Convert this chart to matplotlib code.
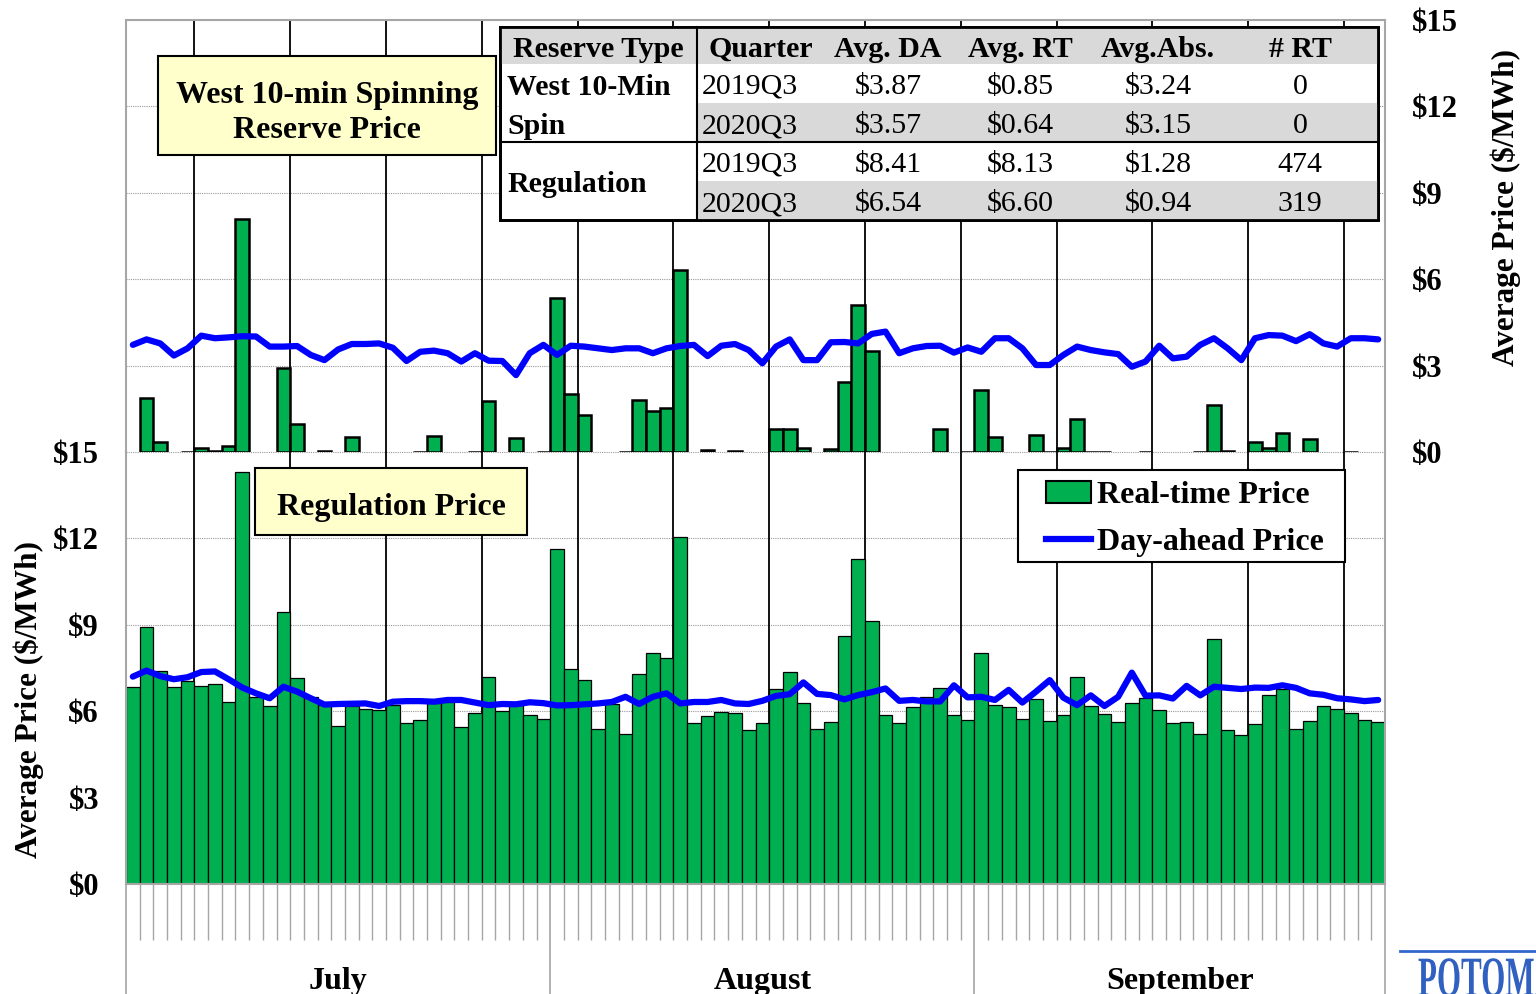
import numpy as np
import matplotlib
matplotlib.use("Agg")
import matplotlib.pyplot as plt
from matplotlib.patches import Rectangle, PathPatch, Patch
from matplotlib.lines import Line2D
from matplotlib.textpath import TextPath
from matplotlib.font_manager import FontProperties
from matplotlib.transforms import Affine2D, blended_transform_factory

plt.rcParams['font.family'] = ['Liberation Serif', 'DejaVu Serif']
plt.rcParams['font.weight'] = 'bold'

# ---------------- data (Jul 1 - Sep 30, one value per day) ----------------
months = ['July', 'August', 'September']
month_days = [31, 31, 30]

# regulation, $/MWh
reg_rt = [6.83, 8.93, 7.41, 6.85, 7.06, 6.89, 6.96, 6.31, 14.32, 6.48, 6.19, 9.44, 7.15, 6.50, 6.20, 5.49,
          6.19, 6.06, 6.03, 6.21, 5.58, 5.71, 6.27, 6.31, 5.46, 5.93, 7.18, 6.02, 6.21, 5.86, 5.72,
          11.64, 7.45, 7.07, 5.39, 6.25, 5.21, 7.28, 8.01, 7.84, 12.04, 5.59, 5.82, 5.97, 5.93, 5.34, 5.58,
          6.76, 7.36, 6.27, 5.39, 5.61, 8.62, 11.27, 9.12, 5.87, 5.58, 6.15, 6.48, 6.81, 5.86, 5.69,
          8.03, 6.21, 6.13, 5.72, 6.44, 5.65, 5.86, 7.18, 6.17, 5.89, 5.61, 6.30, 6.45, 6.04, 5.58,
          5.61, 5.22, 8.50, 5.34, 5.17, 5.56, 6.55, 6.78, 5.37, 5.65, 6.17, 6.08, 5.94, 5.69, 5.64]
reg_da = [7.20, 7.41, 7.22, 7.11, 7.18, 7.36, 7.38, 7.11, 6.82, 6.62, 6.45, 6.85, 6.68, 6.45, 6.23, 6.25,
          6.26, 6.27, 6.18, 6.33, 6.35, 6.35, 6.33, 6.39, 6.39, 6.30, 6.21, 6.25, 6.24, 6.31, 6.28,
          6.20, 6.21, 6.24, 6.27, 6.32, 6.50, 6.25, 6.50, 6.62, 6.27, 6.32, 6.32, 6.39, 6.27, 6.25, 6.36,
          6.53, 6.59, 7.00, 6.60, 6.56, 6.41, 6.56, 6.66, 6.79, 6.36, 6.39, 6.34, 6.34, 6.90, 6.48,
          6.50, 6.39, 6.74, 6.30, 6.68, 7.08, 6.47, 6.21, 6.55, 6.18, 6.50, 7.34, 6.54, 6.55, 6.44,
          6.88, 6.55, 6.85, 6.81, 6.77, 6.82, 6.81, 6.90, 6.81, 6.62, 6.57, 6.45, 6.41, 6.35, 6.39]

# west 10-min spinning reserve, $/MWh (None = no real-time price that day)
spin_rt = [None, 1.86, 0.36, None, 0.0, 0.13, 0.03, 0.21, 8.08, None, None, 2.93, 0.96, None, 0.05, None,
           0.51, None, None, None, None, 0.0, 0.56, None, None, 0.0, 1.77, None, 0.50, None, 0.0,
           5.36, 2.00, 1.28, None, None, 0.0, 1.79, 1.42, 1.54, 6.32, None, 0.07, None, 0.02, None, None,
           0.80, 0.80, 0.15, None, 0.12, 2.42, 5.09, 3.52, None, None, None, None, 0.80, None, 0.0,
           2.15, 0.53, None, None, 0.59, 0.0, 0.13, 1.16, 0.0, 0.0, None, None, 0.0, None, None,
           None, 0.0, 1.63, 0.03, None, 0.36, 0.13, 0.65, None, 0.46, None, None, 0.0, None, None]
spin_da = [3.72, 3.91, 3.77, 3.35, 3.60, 4.04, 3.95, 3.98, 4.02, 4.01, 3.66, 3.66, 3.68, 3.37, 3.19, 3.56,
           3.75, 3.75, 3.77, 3.62, 3.16, 3.48, 3.52, 3.43, 3.14, 3.43, 3.17, 3.16, 2.67, 3.43, 3.72,
           3.37, 3.69, 3.66, 3.60, 3.54, 3.60, 3.60, 3.43, 3.60, 3.68, 3.72, 3.33, 3.69, 3.75, 3.54, 3.08,
           3.66, 3.91, 3.19, 3.19, 3.81, 3.82, 3.77, 4.10, 4.18, 3.43, 3.60, 3.68, 3.69, 3.45, 3.63,
           3.48, 3.95, 3.95, 3.60, 3.02, 3.02, 3.37, 3.66, 3.54, 3.46, 3.40, 2.96, 3.14, 3.69, 3.25,
           3.31, 3.72, 3.95, 3.60, 3.19, 3.95, 4.06, 4.04, 3.85, 4.09, 3.77, 3.66, 3.95, 3.95, 3.91]

# summary table
tbl_header = ['Reserve Type', 'Quarter', 'Avg. DA', 'Avg. RT', 'Avg.Abs.', '# RT']
tbl_types = [['West 10-Min', 'Spin'], ['Regulation']]
tbl_quarter = ['2019Q3', '2020Q3', '2019Q3', '2020Q3']
tbl_da = [3.87, 3.57, 8.41, 6.54]
tbl_rt = [0.85, 0.64, 8.13, 6.60]
tbl_abs = [3.24, 3.15, 1.28, 0.94]
tbl_nrt = [0, 0, 474, 319]

GREEN = '#00B050'
BLUE = '#0000FF'
GRAY = '#A6A6A6'

W, H = 1536, 994
def fx(x): return x / W
def fy(y): return 1 - y / H

fig = plt.figure(figsize=(W / 100, H / 100), dpi=100)
ax_top = fig.add_axes([fx(126), fy(452), fx(1385) - fx(126), fy(20) - fy(452)])
ax_bot = fig.add_axes([fx(126), fy(884), fx(1385) - fx(126), fy(452) - fy(884)])

n = len(reg_rt)
x = np.arange(n) + 0.5

# bottom: regulation
ax_bot.bar(x, reg_rt, width=1.0, color=GREEN, edgecolor='black', linewidth=0.9, zorder=2)
ax_bot.plot(x, reg_da, color=BLUE, lw=4.5, zorder=3, solid_joinstyle='round', solid_capstyle='round')

# top: spinning reserve
idx = [i for i, v in enumerate(spin_rt) if v is not None]
ax_top.bar(x[idx], [spin_rt[i] for i in idx], width=1.0, color=GREEN, edgecolor='black',
           linewidth=1.8, zorder=2)
ax_top.plot(x, spin_da, color=BLUE, lw=4.5, zorder=3, solid_joinstyle='round', solid_capstyle='round')

yt = np.arange(0, 16, 3)
for a in (ax_top, ax_bot):
    a.set_xlim(0, n)
    a.set_ylim(0, 15)
    a.set_yticks(yt)
    a.set_yticklabels(['\\$%d' % v for v in yt])
    a.yaxis.grid(True, linestyle=(0, (1, 1)), color='#999999', lw=0.8)
    a.set_axisbelow(True)
    for w in range(5, n, 7):
        a.axvline(w, color='black', lw=1.3, zorder=1.5)
    for s in a.spines.values():
        s.set_color(GRAY)
        s.set_linewidth(1.5)

ax_top.spines['bottom'].set_visible(False)
ax_bot.spines['top'].set_visible(False)

ax_top.set_xticks([])
ax_top.tick_params(axis='y', left=False, right=False, labelleft=False, labelright=True,
                   labelsize=22, pad=16)
ax_bot.tick_params(axis='y', left=False, labelleft=True, labelsize=22, pad=16)

bounds = np.concatenate([[0], np.cumsum(month_days)])
ax_bot.set_xticks(bounds)
ax_bot.set_xticks(np.arange(n + 1), minor=True)
ax_bot.tick_params(axis='x', which='major', length=79, width=1.2, color=GRAY, labelbottom=False)
ax_bot.tick_params(axis='x', which='minor', length=40, width=1.0, color=GRAY)

trans = blended_transform_factory(ax_bot.transData, fig.transFigure)
for m, a0, a1 in zip(months, bounds[:-1], bounds[1:]):
    ax_bot.text((a0 + a1) / 2, fy(981), m, transform=trans, ha='center', va='center', fontsize=23)

fig.text(fx(29), fy(700), 'Average Price (\\$/MWh)', rotation=90, ha='center', va='center', fontsize=22.5)
fig.text(fx(1506), fy(207), 'Average Price (\\$/MWh)', rotation=90, ha='center', va='center', fontsize=22.5)


def rect(x0, y0, x1, y1, fc, ec='black', lw=1.5, z=5):
    fig.add_artist(Rectangle((fx(x0), fy(y1)), fx(x1) - fx(x0), fy(y0) - fy(y1),
                             transform=fig.transFigure, facecolor=fc, edgecolor=ec, lw=lw, zorder=z))


def hline(x0, x1, y, lw=2):
    fig.add_artist(Line2D([fx(x0), fx(x1)], [fy(y), fy(y)], transform=fig.transFigure,
                          color='black', lw=lw, zorder=7))


# title boxes
rect(158, 56, 496, 155, '#FFFFCC')
fig.text(fx(327), fy(113), 'West 10-min Spinning\nReserve Price', ha='center', va='center',
         fontsize=23, linespacing=1.3, zorder=6)
rect(255, 468, 527, 535, '#FFFFCC')
fig.text(fx(391), fy(507), 'Regulation Price', ha='center', va='center', fontsize=23, zorder=6)

# legend (frame drawn separately so the padding matches)
rect(1018, 470, 1345, 562, 'white', z=7.5)
leg = ax_bot.legend(handles=[Patch(facecolor=GREEN, edgecolor='black', lw=1.5),
                             Line2D([], [], color=BLUE, lw=4.5)],
                    labels=['Real-time Price', 'Day-ahead Price'],
                    loc='upper left', bbox_to_anchor=(fx(1046), fy(481)), bbox_transform=fig.transFigure,
                    prop={'weight': 'bold', 'size': 23}, frameon=False,
                    borderaxespad=0, borderpad=0, handlelength=1.4, handletextpad=0.2,
                    labelspacing=0.55)
leg.remove()
fig.add_artist(leg)
leg.set_zorder(8)

# table
tx0, tx1, tsplit = 500, 1378, 697
row_top = [64, 103, 142, 181]
row_h = 39
rect(tx0, 27, tx1, 220, 'white', lw=2, z=5)
rect(tx0, 27, tx1, 64, '#D9D9D9', ec='none', z=5.5)
for r in (1, 3):
    rect(tsplit, row_top[r], tx1, row_top[r] + row_h, '#D9D9D9', ec='none', z=5.5)
rect(tx0, 27, tx1, 220, 'none', lw=2, z=7)
fig.add_artist(Line2D([fx(tsplit), fx(tsplit)], [fy(27), fy(220)], transform=fig.transFigure,
                      color='black', lw=1.5, zorder=7))
hline(tx0, tx1, 142, lw=1.5)

col_x = [598, 761, 888, 1020, 1158, 1300]
dy = 3.5
for cx, h in zip(col_x, tbl_header):
    fig.text(fx(cx), fy(46 + dy), h, ha='center', va='center', fontsize=21.5, zorder=8)

fig.text(fx(507), fy(84 + dy), tbl_types[0][0], ha='left', va='center', fontsize=21.5, zorder=8)
fig.text(fx(507), fy(123 + dy), tbl_types[0][1], ha='left', va='center', fontsize=21.5, zorder=8)
fig.text(fx(507), fy(181 + dy), tbl_types[1][0], ha='left', va='center', fontsize=21.5, zorder=8)

for r in range(4):
    yc = row_top[r] + row_h / 2 + dy
    fig.text(fx(702), fy(yc), tbl_quarter[r], ha='left', va='center', fontsize=21.5,
             fontweight='normal', zorder=8)
    for cx, val in zip(col_x[2:5], (tbl_da[r], tbl_rt[r], tbl_abs[r])):
        fig.text(fx(cx), fy(yc), '\\$%.2f' % val, ha='center', va='center', fontsize=21.5,
                 fontweight='normal', zorder=8)
    fig.text(fx(col_x[5]), fy(yc), '%d' % tbl_nrt[r], ha='center', va='center', fontsize=21.5,
             fontweight='normal', zorder=8)

# logo (cut off at the figure edge)
fig.add_artist(Line2D([fx(1400), fx(1536)], [fy(951), fy(951)], transform=fig.transFigure,
                      color='#3366CC', lw=2))
tp = TextPath((0, 0), 'POTOMAC', size=1, prop=FontProperties(family='Liberation Serif'))
fig.add_artist(PathPatch(tp, transform=Affine2D().scale(31, 57).translate(1418, -2),
                         facecolor='#3060C0', edgecolor='none'))

fig.savefig('out.png', dpi=100)
